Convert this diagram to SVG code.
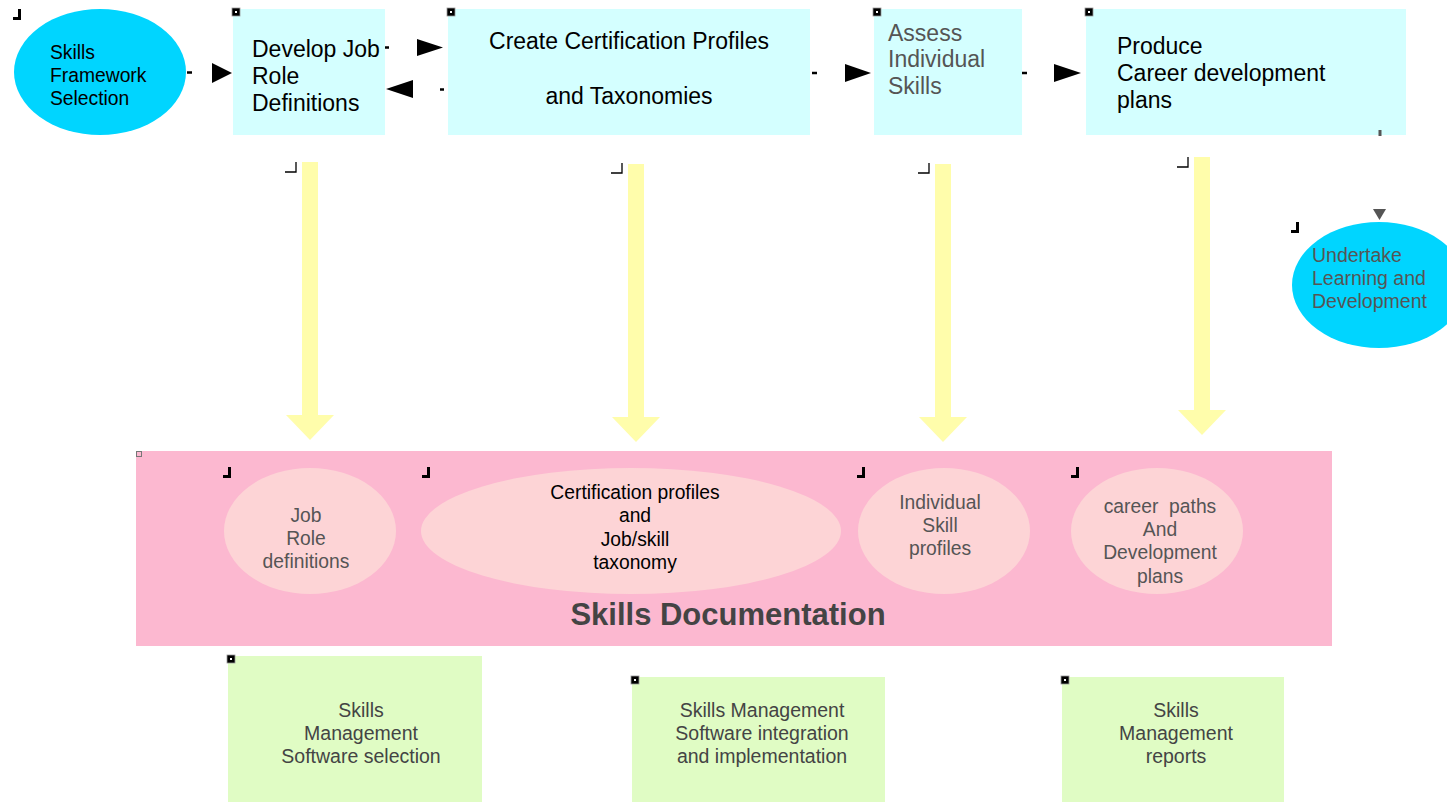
<svg xmlns="http://www.w3.org/2000/svg" width="1447" height="802" viewBox="0 0 1447 802">
<defs>
<style>
.t{font-family:"Liberation Sans",Arial,sans-serif}
.top{font-size:23px;fill:#000}
.topg{font-size:23px;fill:#555}
.el{font-size:19.3px;fill:#000}
.elg{font-size:19.5px;fill:#555}
.doc{font-size:19.3px;fill:#555;text-anchor:middle}
.grn{font-size:19.5px;fill:#444;text-anchor:middle}
.box{fill:#d4ffff}
.cyan{fill:#00d5ff}
.inner{fill:#fdd4d6}
.green{fill:#e0fcc4}
.yel{fill:#fffdab}
.sq{fill:#000;stroke:#999;stroke-width:0.8}
.hook{fill:none;stroke:#000;stroke-width:3}
.thin{fill:none;stroke:#000;stroke-width:1.3}
.ah{fill:#000}
.dash{stroke:#000;stroke-width:2.5}
</style>
<g id="sqm"><rect class="sq" x="0" y="0" width="8" height="8"/><rect x="3" y="3" width="2" height="2" fill="#fff"/></g>
<path id="hk" class="hook" d="M6.5 0 V9.5 H0"/>
<path id="th" class="thin" d="M11 0 V10 H0"/>
</defs>
<rect width="1447" height="802" fill="#fff"/>

<g id="skills-framework">
<ellipse class="cyan" cx="100" cy="72" rx="86" ry="63"/>
<use href="#hk" x="13" y="9"/>
<text class="t el" x="50" y="59">Skills</text>
<text class="t el" x="50" y="82">Framework</text>
<text class="t el" x="50" y="105">Selection</text>
</g>

<g id="develop-job">
<rect class="box" x="233" y="9" width="152" height="126"/>
<use href="#sqm" x="232" y="8"/>
<text class="t top" x="252" y="57">Develop Job</text>
<text class="t top" x="252" y="84">Role</text>
<text class="t top" x="252" y="111">Definitions</text>
</g>

<g id="create-cert">
<rect class="box" x="448" y="9" width="362" height="126"/>
<use href="#sqm" x="447" y="8"/>
<text class="t top" x="629" y="49" text-anchor="middle">Create Certification Profiles</text>
<text class="t top" x="629" y="104" text-anchor="middle">and Taxonomies</text>
</g>

<g id="assess">
<rect class="box" x="874" y="9" width="148" height="126"/>
<use href="#sqm" x="873" y="8"/>
<text class="t topg" x="888" y="41">Assess</text>
<text class="t topg" x="888" y="67">Individual</text>
<text class="t topg" x="888" y="94">Skills</text>
</g>

<g id="produce">
<rect class="box" x="1086" y="9" width="320" height="126"/>
<use href="#sqm" x="1085" y="8"/>
<text class="t top" x="1117" y="54">Produce</text>
<text class="t top" x="1117" y="81">Career development</text>
<text class="t top" x="1117" y="108">plans</text>
</g>

<g id="undertake">
<ellipse class="cyan" cx="1379" cy="285" rx="87" ry="63"/>
<use href="#hk" x="1291" y="222"/>
<text class="t elg" x="1312" y="262">Undertake</text>
<text class="t elg" x="1312" y="285">Learning and</text>
<text class="t elg" x="1312" y="308">Development</text>
</g>

<g id="skills-documentation">
<rect x="136" y="451" width="1196" height="195" fill="#fcb8d0"/>
<rect x="136.5" y="451.5" width="5" height="5" fill="none" stroke="#777" stroke-width="1"/>
<text class="t" x="728" y="625" text-anchor="middle" font-size="31" font-weight="bold" fill="#444">Skills Documentation</text>
</g>

<g id="job-role-defs">
<ellipse class="inner" cx="310" cy="531" rx="86" ry="63"/>
<use href="#hk" x="223" y="467"/>
<text class="t doc" x="306" y="522">Job</text>
<text class="t doc" x="306" y="545">Role</text>
<text class="t doc" x="306" y="568">definitions</text>
</g>

<g id="cert-profiles">
<ellipse class="inner" cx="631" cy="531" rx="210" ry="63"/>
<use href="#hk" x="422" y="467"/>
<text class="t doc" x="635" y="499" style="fill:#000">Certification profiles</text>
<text class="t doc" x="635" y="522" style="fill:#000">and</text>
<text class="t doc" x="635" y="546" style="fill:#000">Job/skill</text>
<text class="t doc" x="635" y="569" style="fill:#000">taxonomy</text>
</g>

<g id="individual-skill">
<ellipse class="inner" cx="944" cy="531" rx="86" ry="63"/>
<use href="#hk" x="857" y="467"/>
<text class="t doc" x="940" y="509">Individual</text>
<text class="t doc" x="940" y="532">Skill</text>
<text class="t doc" x="940" y="555">profiles</text>
</g>

<g id="career-paths">
<ellipse class="inner" cx="1157" cy="531" rx="86" ry="63"/>
<use href="#hk" x="1071" y="467"/>
<text class="t doc" x="1160" y="513" xml:space="preserve" style="white-space:pre">career  paths</text>
<text class="t doc" x="1160" y="536">And</text>
<text class="t doc" x="1160" y="559">Development</text>
<text class="t doc" x="1160" y="583">plans</text>
</g>

<g id="sm-selection">
<rect class="green" x="228" y="656" width="254" height="146"/>
<use href="#sqm" x="227" y="655"/>
<text class="t grn" x="361" y="717">Skills</text>
<text class="t grn" x="361" y="740">Management</text>
<text class="t grn" x="361" y="763">Software selection</text>
</g>

<g id="sm-integration">
<rect class="green" x="632" y="677" width="253" height="125"/>
<use href="#sqm" x="631" y="676"/>
<text class="t grn" x="762" y="717">Skills Management</text>
<text class="t grn" x="762" y="740">Software integration</text>
<text class="t grn" x="762" y="763">and implementation</text>
</g>

<g id="sm-reports">
<rect class="green" x="1062" y="677" width="222" height="125"/>
<use href="#sqm" x="1061" y="676"/>
<text class="t grn" x="1176" y="717">Skills</text>
<text class="t grn" x="1176" y="740">Management</text>
<text class="t grn" x="1176" y="763">reports</text>
</g>

<g id="connectors">
<line class="dash" x1="187" y1="72.5" x2="192" y2="72.5"/>
<polygon class="ah" points="212,63 232,73 212,83"/>
<line class="dash" x1="385" y1="47.5" x2="389" y2="47.5"/>
<polygon class="ah" points="417,39 443,47.5 417,56"/>
<polygon class="ah" points="413,80 386,89 413,98"/>
<line class="dash" x1="440" y1="89.5" x2="444" y2="89.5"/>
<line class="dash" x1="812" y1="73" x2="817" y2="73"/>
<polygon class="ah" points="845,64 871,73 845,82"/>
<line class="dash" x1="1022" y1="73" x2="1027" y2="73"/>
<polygon class="ah" points="1054,64 1081,73 1054,82"/>
<line x1="1380" y1="130" x2="1380" y2="136" stroke="#555" stroke-width="3"/>
<polygon points="1373,209 1386,209 1379.5,220" fill="#555"/>
<polygon class="yel" points="302,162 318,162 318,415 334,415 310,440 286,415 302,415"/>
<polygon class="yel" points="628,164 644,164 644,417 660,417 636,442 612,417 628,417"/>
<polygon class="yel" points="935,164 951,164 951,417 967,417 943,442 919,417 935,417"/>
<polygon class="yel" points="1194,157 1210,157 1210,410 1226,410 1202,435 1178,410 1194,410"/>
<use href="#th" x="285" y="162"/>
<use href="#th" x="611" y="163"/>
<use href="#th" x="918" y="163"/>
<use href="#th" x="1177" y="157"/>
</g>
</svg>
